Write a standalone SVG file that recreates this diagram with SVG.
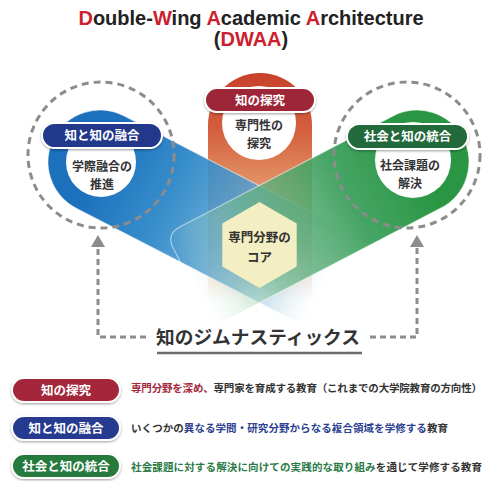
<svg xmlns="http://www.w3.org/2000/svg" width="487" height="481" viewBox="0 0 487 481">
<defs>
<style>
.jp{font-family:"Noto Sans CJK JP","Noto Sans",sans-serif;font-weight:700}
.pt{fill:#fff;font-size:12.5px;text-anchor:middle}
.ct{fill:#333;font-size:12.5px;text-anchor:middle}
.cs{fill:#333;font-size:12px;text-anchor:middle}
.lg{font-size:10.5px;fill:#333}
.dash{fill:none;stroke:#8c8c8c;stroke-width:3;stroke-dasharray:7 5}
.conn{fill:none;stroke:#8c8c8c;stroke-width:3;stroke-dasharray:6 4}
.pill{stroke:#fff;stroke-width:2;filter:url(#sh)}
.wing{stroke:#fff;stroke-opacity:.5;stroke-width:1.2}
.red{fill:#cc1f2f}
</style>
<filter id="sh" x="-20%" y="-40%" width="140%" height="180%"><feDropShadow dx="0" dy="1.2" stdDeviation="1.3" flood-color="#000" flood-opacity="0.35"/></filter>
<linearGradient id="go" gradientUnits="userSpaceOnUse" x1="0" y1="73" x2="0" y2="300">
<stop offset="0" stop-color="#c8412c"/>
<stop offset="0.25" stop-color="#d35f3f"/>
<stop offset="0.45" stop-color="#e08a5e"/>
<stop offset="0.75" stop-color="#e8a47e" stop-opacity="0.7"/>
<stop offset="1" stop-color="#f0c0a0" stop-opacity="0"/>
</linearGradient>
<linearGradient id="gb" gradientUnits="userSpaceOnUse" x1="0" y1="0" x2="256" y2="0">
<stop offset="0" stop-color="#1c70bc"/>
<stop offset="0.3" stop-color="#2d88c8" stop-opacity="0.95"/>
<stop offset="0.55" stop-color="#4d9bcf" stop-opacity="0.85"/>
<stop offset="0.7" stop-color="#62a6cf" stop-opacity="0.7"/>
<stop offset="0.85" stop-color="#8dbfd9" stop-opacity="0.35"/>
<stop offset="1" stop-color="#c8e0ee" stop-opacity="0"/>
</linearGradient>
<linearGradient id="gg" gradientUnits="userSpaceOnUse" x1="0" y1="0" x2="256" y2="0">
<stop offset="0" stop-color="#2a9644"/>
<stop offset="0.3" stop-color="#3ca05c" stop-opacity="0.95"/>
<stop offset="0.55" stop-color="#5cae7a" stop-opacity="0.82"/>
<stop offset="0.7" stop-color="#6cb78c" stop-opacity="0.65"/>
<stop offset="0.85" stop-color="#9ccfb0" stop-opacity="0.3"/>
<stop offset="1" stop-color="#d0ead8" stop-opacity="0"/>
</linearGradient>
<marker id="ah" markerUnits="userSpaceOnUse" markerWidth="12" markerHeight="14" viewBox="0 0 12 14" refX="0" refY="7" orient="auto">
<path d="M0,0 L12,7 L0,14 Z" fill="#8c8c8c"/>
</marker>
</defs>
<rect width="487" height="481" fill="#fff"/>

<g id="title" font-family="'Liberation Sans',Arial,sans-serif" font-weight="700" font-size="20" fill="#222" text-anchor="middle">
<text x="251" y="25"><tspan class="red">D</tspan>ouble-<tspan class="red">W</tspan>ing <tspan class="red">A</tspan>cademic <tspan class="red">A</tspan>rchitecture</text>
<text x="251" y="46">(<tspan class="red">DWAA</tspan>)</text>
</g>

<g id="wings">
<path id="orange-column" d="M208,300 V125 A52,52 0 0 1 312,125 V300 Z" fill="url(#go)"/>
<path id="blue-wing" class="wing" transform="translate(100,162) rotate(27.3)" d="M0,-52 H240 Q256,-52 256,-36 V36 Q256,52 240,52 H0 A52,52 0 0 1 0,-52 Z" fill="url(#gb)"/>
<path id="green-wing" class="wing" transform="translate(417,162) rotate(152.5)" d="M0,-52 H240 Q256,-52 256,-36 V36 Q256,52 240,52 H0 A52,52 0 0 1 0,-52 Z" fill="url(#gg)"/>
</g>

<g id="dashed-rings">
<circle class="dash" cx="101" cy="155" r="73"/>
<circle class="dash" cx="407" cy="155" r="73"/>
</g>

<g id="connectors">
<path class="conn" d="M146,337 H98 V247" marker-end="url(#ah)"/>
<path class="conn" d="M370,337 H417 V247" marker-end="url(#ah)"/>
</g>

<g id="node-tanq" class="jp">
<circle cx="259" cy="123" r="37" fill="#fff"/>
<text class="cs" x="259" y="130">専門性の</text>
<text class="cs" x="259" y="147.6">探究</text>
<rect class="pill" x="205" y="88" width="110" height="24" rx="12" fill="#9c2737"/>
<text class="pt" x="260" y="104.5">知の探究</text>
</g>

<g id="node-yugo" class="jp">
<circle cx="101" cy="162" r="35" fill="#fff"/>
<text class="cs" x="102" y="171">学際融合の</text>
<text class="cs" x="102" y="188.6">推進</text>
<rect class="pill" x="42" y="123" width="120" height="25" rx="12.5" fill="#22378a"/>
<text class="pt" x="102" y="140">知と知の融合</text>
</g>

<g id="node-togo" class="jp">
<circle cx="413" cy="160" r="38" fill="#fff"/>
<text class="cs" x="410" y="170">社会課題の</text>
<text class="cs" x="410" y="187.6">解決</text>
<rect class="pill" x="347" y="124" width="121" height="25" rx="12.5" fill="#22693a"/>
<text class="pt" x="407.5" y="141">社会と知の統合</text>
</g>

<g id="node-core" class="jp">
<polygon points="259.5,202 296.7,223.5 296.7,266.5 259.5,288 222.3,266.5 222.3,223.5" fill="#f3efc2"/>
<text class="ct" x="259.5" y="241.5">専門分野の</text>
<text class="ct" x="259.5" y="261.5">コア</text>
</g>

<g id="node-gym" class="jp">
<text x="258" y="344" font-size="18.7" fill="#333" text-anchor="middle">知のジムナスティックス</text>
<line x1="157" y1="353" x2="362" y2="353" stroke="#6d6d6d" stroke-width="2.5"/>
</g>

<g id="legend" class="jp">
<g id="legend-1">
<rect class="pill" x="12" y="378" width="108" height="24" rx="12" fill="#a3283b"/>
<text class="pt" x="66" y="394.5">知の探究</text>
<text class="lg" x="131" y="392" textLength="351" lengthAdjust="spacing"><tspan fill="#a3283b">専門分野を深め、</tspan>専門家を育成する教育（これまでの大学院教育の方向性）</text>
</g>
<g id="legend-2">
<rect class="pill" x="12" y="416" width="108" height="24" rx="12" fill="#263b8f"/>
<text class="pt" x="66" y="432.5">知と知の融合</text>
<text class="lg" x="131" y="432" textLength="317" lengthAdjust="spacing">いくつかの<tspan fill="#2c3f91">異なる学問・研究分野からなる複合領域を学修する</tspan>教育</text>
</g>
<g id="legend-3">
<rect class="pill" x="12" y="454" width="108" height="24" rx="12" fill="#267a3e"/>
<text class="pt" x="66" y="470.5">社会と知の統合</text>
<text class="lg" x="131" y="471" textLength="351" lengthAdjust="spacing"><tspan fill="#2a7a45">社会課題に対する解決に向けての実践的な取り組み</tspan>を通じて学修する教育</text>
</g>
</g>
</svg>
